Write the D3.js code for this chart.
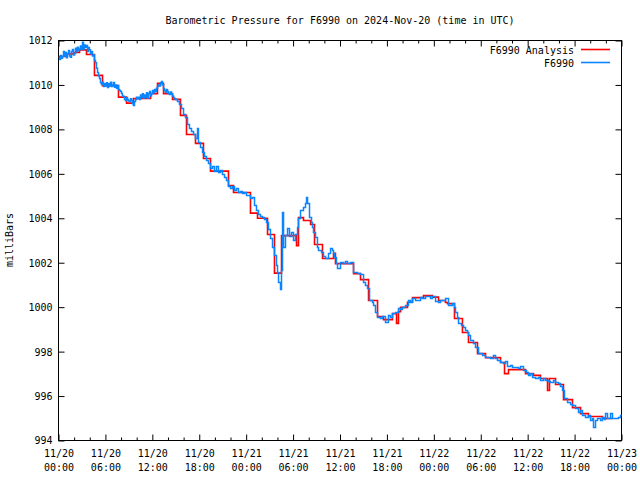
<!DOCTYPE html>
<html><head><meta charset="utf-8">
<script src="https://cdn.jsdelivr.net/npm/d3@7"></script>
<style>
body{margin:0;background:#fff;}
text{font-family:"DejaVu Sans Mono",monospace;font-size:10px;fill:#000;}
</style></head>
<body><svg id="c" width="640" height="480"></svg>
<script>
// ---- data ----
const titleText = "Barometric Pressure for F6990 on 2024-Nov-20 (time in UTC)";
const yLabelText = "milliBars";
const seriesNames = ["F6990 Analysis", "F6990"];
const seriesColors = ["#ff0000", "#0a85ff"];
const yTicks = [994, 996, 998, 1000, 1002, 1004, 1006, 1008, 1010, 1012];
const xMajorHours = [0, 6, 12, 18, 24, 30, 36, 42, 48, 54, 60, 66, 72];
const xTickDates = ["11/20","11/20","11/20","11/20","11/21","11/21","11/21","11/21","11/22","11/22","11/22","11/22","11/23"];
const xTickTimes = ["00:00","06:00","12:00","18:00","00:00","06:00","12:00","18:00","00:00","06:00","12:00","18:00","00:00"];
// hours since 2024-11-20 00:00 UTC
const analysisHours = [0,0.9,1.92,2.69,3.58,4.6,5.63,7.67,8.7,9.59,11.77,12.66,13.43,14.58,15.6,16.37,17.52,18.54,19.44,21.74,22.38,24.55,25.45,26.73,27.62,28.52,30.44,30.69,31.33,32.23,32.74,33.76,35.17,35.42,37.73,38.62,39.65,40.8,41.56,42.71,43.23,43.48,43.74,44.63,45.27,46.68,47.83,48.6,49.49,49.75,50.64,51.66,52.43,53.58,54.61,56.53,57.04,57.55,59.72,60.75,61.64,62.54,62.79,63.56,64.58,65.73,66.76,67.78,69.57,70.85];
const analysisMbar = [1011.28,1011.4,1011.46,1011.58,1011.37,1010.43,1009.97,1009.45,1009.18,1009.39,1009.61,1010.07,1009.61,1009.35,1008.63,1007.77,1007.37,1006.69,1006.12,1005.47,1005.16,1004.23,1004.0,1003.27,1001.53,1003.22,1002.77,1004.03,1003.9,1003.72,1002.82,1002.19,1002.42,1001.96,1001.51,1001.24,1000.3,999.58,999.44,999.71,999.27,999.8,999.99,1000.22,1000.43,1000.52,1000.45,1000.3,1000.21,1000.16,999.49,998.86,998.41,997.91,997.73,997.51,997.01,997.19,997.01,996.93,996.79,996.25,996.79,996.52,995.84,995.48,995.21,995.08,994.99,994.99];
const obsHours = [0,0.13,0.26,0.39,0.51,0.64,0.77,0.9,1.02,1.15,1.28,1.41,1.53,1.66,1.79,1.92,2.05,2.18,2.3,2.43,2.56,2.69,2.81,2.94,3.07,3.2,3.33,3.45,3.58,3.71,3.84,3.96,4.09,4.22,4.35,4.48,4.6,4.73,4.86,4.99,5.12,5.24,5.37,5.5,5.63,5.76,5.89,6.01,6.14,6.27,6.4,6.52,6.65,6.78,6.9,7.03,7.16,7.29,7.42,7.55,7.67,7.8,7.93,8.06,8.18,8.31,8.44,8.57,8.7,8.82,8.95,9.08,9.21,9.34,9.47,9.59,9.72,9.85,9.97,10.1,10.23,10.36,10.49,10.61,10.74,10.87,11.0,11.13,11.26,11.38,11.51,11.64,11.77,11.89,12.02,12.15,12.28,12.41,12.53,12.66,12.79,12.92,13.05,13.17,13.3,13.43,13.56,13.68,13.81,13.94,14.07,14.2,14.33,14.45,14.58,14.71,14.84,14.96,15.22,15.47,15.73,15.99,16.24,16.5,16.75,17.01,17.27,17.52,17.78,17.9,18.16,18.42,18.67,18.93,19.18,19.44,19.7,19.95,20.21,20.46,20.72,20.97,21.23,21.49,21.74,22.0,22.25,22.51,22.76,23.02,23.28,23.53,23.79,24.04,24.3,24.56,24.81,25.07,25.32,25.58,25.83,26.09,26.35,26.6,26.86,27.11,27.37,27.62,27.88,28.01,28.14,28.39,28.52,28.65,28.78,29.03,29.29,29.54,29.8,30.05,30.31,30.57,30.69,30.95,31.33,31.59,31.72,31.85,32.1,32.36,32.48,32.61,32.87,33.12,33.25,33.64,33.89,34.15,34.53,34.79,35.04,35.17,35.3,35.55,35.68,36.07,36.45,36.7,36.96,37.34,37.73,38.24,38.62,39.01,39.26,39.52,39.78,40.16,40.29,40.54,40.8,41.18,41.44,41.82,42.2,42.46,42.72,43.1,43.48,43.74,43.99,44.38,44.76,45.02,45.27,45.66,45.91,46.3,46.55,46.94,47.19,47.58,47.83,48.22,48.6,48.86,49.11,49.5,49.88,50.13,50.39,50.65,50.77,51.03,51.16,51.54,51.8,52.05,52.31,52.44,52.69,53.07,53.33,53.72,54.23,54.61,55.0,55.25,55.63,55.89,56.14,56.53,56.91,57.17,57.42,57.81,58.06,58.45,58.83,59.09,59.47,59.86,60.11,60.37,60.62,61.01,61.39,61.64,62.03,62.28,62.67,62.92,63.31,63.56,63.95,64.2,64.46,64.71,65.1,65.48,65.74,66.12,66.5,66.76,67.01,67.4,67.78,68.04,68.29,68.42,68.68,68.93,69.32,69.57,69.83,69.96,70.21,70.6,70.85,71.24,71.62,71.88,72];
const obsMbar = [1011.23,1011.15,1011.32,1011.2,1011.28,1011.5,1011.3,1011.46,1011.22,1011.4,1011.55,1011.3,1011.25,1011.5,1011.6,1011.35,1011.42,1011.65,1011.5,1011.7,1011.55,1011.62,1011.75,1011.6,1011.92,1011.62,1011.8,1011.7,1011.78,1011.5,1011.68,1011.58,1011.4,1011.5,1011.3,1011.35,1011.1,1011.0,1010.75,1010.56,1010.4,1010.29,1010.1,1010.02,1010.12,1009.93,1010.05,1009.95,1010.1,1009.88,1010.05,1009.95,1010.12,1009.93,1010.0,1010.11,1009.9,1010.0,1009.85,1009.98,1009.8,1009.75,1009.7,1009.61,1009.5,1009.48,1009.35,1009.3,1009.42,1009.35,1009.28,1009.25,1009.38,1009.3,1009.15,1009.07,1009.25,1009.34,1009.45,1009.38,1009.45,1009.35,1009.55,1009.45,1009.6,1009.4,1009.55,1009.45,1009.65,1009.4,1009.6,1009.7,1009.5,1009.6,1009.75,1009.65,1009.8,1009.7,1009.85,1009.93,1010.0,1009.95,1010.1,1010.16,1010.0,1009.84,1009.75,1009.66,1009.8,1009.7,1009.62,1009.57,1009.68,1009.6,1009.5,1009.43,1009.38,1009.34,1009.25,1009.12,1008.94,1008.67,1008.53,1008.22,1008.04,1007.9,1007.77,1007.59,1008.04,1007.41,1007.19,1006.96,1006.78,1006.6,1006.47,1006.24,1006.33,1006.1,1006.33,1006.06,1006.15,1005.97,1005.83,1005.7,1005.43,1005.34,1005.43,1005.25,1005.34,1005.16,1005.21,1005.12,1005.16,1005.03,1005.03,1004.89,1004.93,1004.57,1004.35,1004.17,1004.08,1004.03,1003.94,1003.81,1003.5,1003.09,1002.68,1002.33,1001.88,1001.56,1001.11,1000.8,1001.65,1004.26,1002.68,1003.23,1003.54,1003.18,1003.36,1003.0,1003.27,1003.59,1003.99,1004.35,1004.49,1004.66,1004.93,1004.66,1004.03,1003.81,1003.59,1003.36,1003.14,1002.68,1002.55,1002.46,1002.28,1002.19,1002.42,1002.64,1002.55,1002.42,1002.24,1001.96,1001.74,1002.01,1001.96,1002.06,1001.96,1002.01,1001.56,1001.51,1001.47,1001.11,1000.98,1000.84,1000.3,1000.21,1000.07,999.76,999.53,999.49,999.58,999.31,999.62,999.53,999.71,999.76,999.94,999.89,999.98,1000.07,1000.3,1000.21,1000.39,1000.3,1000.3,1000.43,1000.39,1000.48,1000.48,1000.39,1000.48,1000.25,1000.21,1000.3,1000.3,1000.39,1000.07,1000.07,1000.16,999.98,999.76,999.53,999.26,999.17,999.08,998.95,998.86,998.72,998.5,998.36,998.18,997.91,997.82,997.73,997.73,997.69,997.82,997.69,997.6,997.51,997.47,997.56,997.33,997.37,997.28,997.28,997.24,997.33,997.15,997.06,996.93,997.0,996.84,996.79,996.84,996.7,996.79,996.7,996.66,996.61,996.7,996.61,996.57,996.43,996.25,995.89,995.71,995.62,995.57,995.44,995.26,995.35,995.12,995.03,995.12,994.9,994.99,994.58,994.9,994.99,994.9,995.03,994.94,995.21,994.99,995.21,994.99,994.99,995.03,995.12,995.17];

// ---- layout ----
const M = {left: 58.5, top: 40.5, w: 563, h: 400};
const svg = d3.select("#c");
const g = svg.append("g").attr("transform", `translate(${M.left},${M.top})`);
const x = d3.scaleLinear().domain([0, 72]).range([0, M.w]);
const y = d3.scaleLinear().domain([994, 1012]).range([M.h, 0]);
const xMinor = d3.range(0, 73, 2).filter(h => h % 6 !== 0);

// title
svg.append("text").attr("x", 340).attr("y", 24).attr("text-anchor", "middle").text(titleText);
// y label
svg.append("text").attr("transform", "translate(13,240) rotate(-90)").attr("text-anchor", "middle").text(yLabelText);

function clean(sel){ sel.select(".domain").remove(); sel.selectAll("line").attr("stroke","#000"); sel.selectAll("text").style("font-family","DejaVu Sans Mono").style("font-size","10px"); }

// bottom major
const gxb = g.append("g").attr("transform", `translate(0,${M.h})`)
  .call(d3.axisBottom(x).tickValues(xMajorHours).tickSizeInner(-6).tickSizeOuter(0).tickFormat(""));
clean(gxb);
gxb.selectAll(".tick").each(function(d, i){
  const t = d3.select(this).append("text").attr("text-anchor","middle").attr("fill","#000")
    .style("font-family","DejaVu Sans Mono").style("font-size","10px");
  t.append("tspan").attr("x",0).attr("y",16.5).text(xTickDates[i]);
  t.append("tspan").attr("x",0).attr("y",30).text(xTickTimes[i]);
});
g.append("g").attr("transform", `translate(0,${M.h})`)
  .call(d3.axisBottom(x).tickValues(xMinor).tickSizeInner(-3).tickSizeOuter(0).tickFormat("")).call(clean);
// top mirror
g.append("g").call(d3.axisTop(x).tickValues(xMajorHours).tickSizeInner(-6).tickSizeOuter(0).tickFormat("")).call(clean);
g.append("g").call(d3.axisTop(x).tickValues(xMinor).tickSizeInner(-3).tickSizeOuter(0).tickFormat("")).call(clean);
// left
const gyl = g.append("g").call(d3.axisLeft(y).tickValues(yTicks).tickSizeInner(-6).tickSizeOuter(0).tickPadding(6).tickFormat(d3.format("d")));
clean(gyl);
gyl.selectAll("text").attr("dy", "0.34em");
// right mirror
g.append("g").attr("transform", `translate(${M.w},0)`)
  .call(d3.axisRight(y).tickValues(yTicks).tickSizeInner(-6).tickSizeOuter(0).tickFormat("")).call(clean);

// border
g.append("rect").attr("x",0).attr("y",0).attr("width",M.w).attr("height",M.h)
  .attr("fill","none").attr("stroke","#000").attr("stroke-width",1);

// series
svg.append("defs").append("clipPath").attr("id","pc").append("rect")
  .attr("x",0).attr("y",0).attr("width",M.w).attr("height",M.h);
const plot = g.append("g").attr("clip-path","url(#pc)");

const analysis = analysisHours.map((h,i)=>({h, v: analysisMbar[i]}));
const obs = obsHours.map((h,i)=>({h, v: obsMbar[i]}));

plot.append("path").datum(analysis)
  .attr("d", d3.line().x(d=>x(d.h)).y(d=>y(d.v)).curve(d3.curveStepAfter))
  .attr("fill","none").attr("stroke",seriesColors[0]).attr("stroke-width",1.6);
plot.append("path").datum(obs)
  .attr("d", d3.line().x(d=>x(d.h)).y(d=>y(d.v)).curve(d3.curveStepAfter))
  .attr("fill","none").attr("stroke",seriesColors[1]).attr("stroke-width",1.5);

// legend
const leg = svg.append("g");
seriesNames.forEach((n,i)=>{
  const ly = 49.5 + i*13;
  leg.append("text").attr("x",574).attr("y",ly+4).attr("text-anchor","end").text(n);
  leg.append("line").attr("x1",581).attr("x2",610).attr("y1",ly).attr("y2",ly)
    .attr("stroke",seriesColors[i]).attr("stroke-width",1.6);
});
</script></body></html>
